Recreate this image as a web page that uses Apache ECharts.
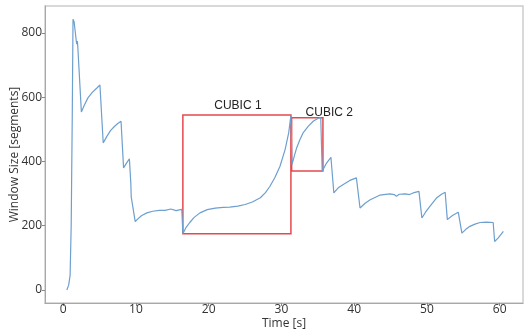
<!DOCTYPE html>
<html>
<head>
<meta charset="utf-8">
<script src="https://cdn.jsdelivr.net/npm/echarts@6/dist/echarts.min.js"></script>
<style>
  html, body { margin: 0; padding: 0; background: #fff; }
  #chart { width: 524px; height: 336px; }
</style>
</head>
<body>
<div id="chart"></div>
<script>
// Congestion window trace (time in seconds, window in segments)
const timeSec = [
  0.5, 0.75, 0.95, 1.1, 1.25, 1.35, 1.5, 1.85, 1.95, 2.0, 2.5, 2.9, 3.4, 4.0, 4.6, 5.05,
  5.5, 6.0, 6.5, 7.0, 7.5, 7.95, 8.3, 8.7, 9.1, 9.3, 9.35, 9.45, 9.9, 10.3, 10.8, 11.5,
  12.3, 13.2, 14.0, 14.8, 15.5, 16.3, 16.45, 16.9, 17.4, 18.0, 18.8, 19.8, 20.9, 22.0,
  22.9, 24.0, 25.0, 26.0, 27.1, 27.8, 28.4, 29.1, 29.8, 30.5, 31.0, 31.3, 31.45, 31.8,
  32.1, 32.5, 33.0, 33.7, 34.4, 35.0, 35.4, 35.6, 36.2, 36.8, 37.2, 37.8, 38.5, 39.4,
  40.3, 40.8, 41.5, 42.2, 43.5, 44.9, 45.5, 45.8, 46.2, 47.0, 47.6, 48.1, 48.9, 49.3,
  49.8, 50.4, 51.3, 52.0, 52.5, 52.8, 53.5, 54.3, 54.8, 55.3, 55.9, 56.6, 57.3, 58.2,
  59.1, 59.3, 59.8, 60.5
];
const windowSeg = [
  0, 15, 45, 200, 550, 843, 835, 765, 775, 760, 554, 575, 598, 615, 628, 638,
  458, 478, 496, 508, 518, 525, 380, 395, 408, 330, 290, 285, 213, 222, 232, 240,
  245, 248, 248, 252, 247, 251, 175, 195, 210, 226, 240, 250, 255, 257,
  258, 261, 266, 274, 287, 303, 322, 350, 385, 437, 490, 544, 390, 420,
  443, 466, 490, 510, 526, 534, 537, 370, 395, 413, 302, 318, 328, 341,
  349, 255, 270, 281, 295, 299, 297, 292, 298, 299, 297, 302, 307, 224,
  242, 260, 286, 298, 304, 219, 232, 242, 177, 188, 198, 205, 210, 211,
  210, 151, 162, 182
];

// Highlighted CUBIC growth phases
const phaseNames = ['CUBIC 1', 'CUBIC 2'];
const phaseStart = [16.45, 31.4];
const phaseEnd = [31.3, 35.7];
const phaseLow = [175, 370];
const phaseHigh = [545, 536];

const xTicks = [0, 10, 20, 30, 40, 50, 60];
const yTicks = [0, 200, 400, 600, 800];

const points = timeSec.map((t, i) => [t, windowSeg[i]]);

const labelFont = { fontFamily: 'Open Sans', fontSize: 12, color: '#333' };
const phaseLabelOffsets = [[1, 0], [22, 4]];

const areas = phaseNames.map((name, i) => [
  {
    name: name,
    xAxis: phaseStart[i], yAxis: phaseHigh[i],
    label: { offset: phaseLabelOffsets[i] }
  },
  { xAxis: phaseEnd[i], yAxis: phaseLow[i] }
]);

const chart = echarts.init(document.getElementById('chart'), null, { renderer: 'canvas' });
chart.setOption({
  animation: false,
  backgroundColor: '#fff',
  grid: {
    left: 45, top: 6, right: 1, bottom: 33,
    containLabel: false, outerBoundsMode: 'none',
    show: true, borderColor: '#cdcdcd', borderWidth: 1.5, backgroundColor: 'transparent'
  },
  xAxis: {
    type: 'value', min: -2.5, max: 63.2,
    name: 'Time [s]', nameLocation: 'middle', nameGap: 15, nameMoveOverlap: false,
    nameTextStyle: labelFont,
    splitLine: { show: false },
    axisLine: { show: true, onZero: false, lineStyle: { color: '#a8a8a8', width: 1 } },
    axisTick: { show: true, length: 3, customValues: xTicks, lineStyle: { color: '#888' } },
    axisLabel: Object.assign({ customValues: xTicks, margin: 1 }, labelFont)
  },
  yAxis: {
    type: 'value', min: -40.6, max: 884,
    name: 'Window Size [segments]', nameLocation: 'middle', nameGap: 24, nameMoveOverlap: false,
    nameTextStyle: labelFont,
    splitLine: { show: false },
    axisLine: { show: true, onZero: false, lineStyle: { color: '#a8a8a8', width: 1 } },
    axisTick: { show: true, length: 3, customValues: yTicks, lineStyle: { color: '#888' } },
    axisLabel: Object.assign({ customValues: yTicks, margin: 3 }, labelFont)
  },
  series: [{
    type: 'line',
    data: points,
    showSymbol: false,
    lineStyle: { color: '#6d9fcf', width: 1.2 },
    markArea: {
      silent: true,
      itemStyle: { color: 'rgba(0,0,0,0)', borderColor: '#e4494f', borderWidth: 1.5 },
      label: {
        show: true, position: 'top', distance: 2,
        fontFamily: 'Liberation Sans', fontSize: 12, color: '#222'
      },
      data: areas
    }
  }]
});
</script>
</body>
</html>
